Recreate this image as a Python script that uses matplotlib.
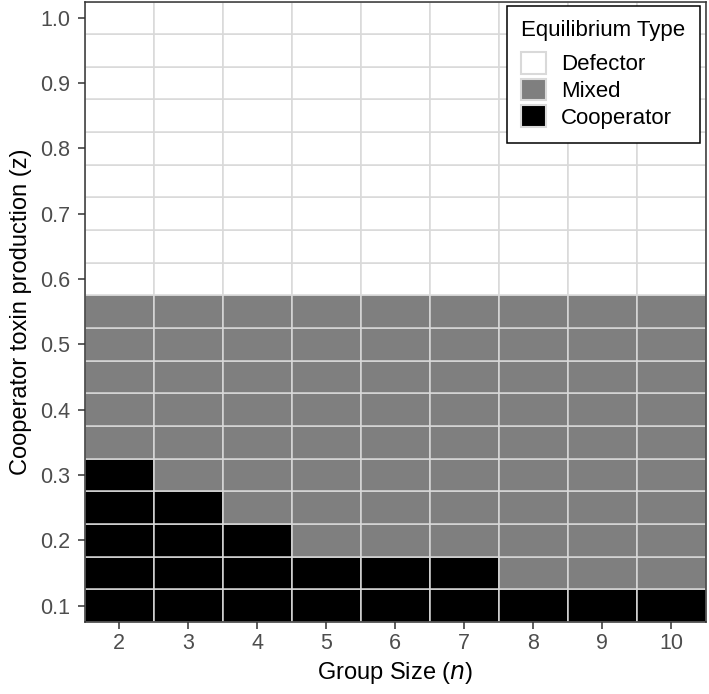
import numpy as np, matplotlib
matplotlib.use("Agg"); import matplotlib.pyplot as plt
from matplotlib.patches import Patch

# data
group_sizes = [2, 3, 4, 5, 6, 7, 8, 9, 10]
z_values = [round(0.10 + 0.05*k, 2) for k in range(19)]   # 0.10 .. 1.00 grid
coop_max_z = [0.30, 0.25, 0.20, 0.15, 0.15, 0.15, 0.10, 0.10, 0.10]
mixed_max_z = [0.55, 0.55, 0.55, 0.55, 0.55, 0.55, 0.55, 0.55, 0.55]
categories = ["Defector", "Mixed", "Cooperator"]
cat_colors = {"Defector": "#ffffff", "Mixed": "#7f7f7f", "Cooperator": "#000000"}

EDGE = "#d9d9d9"; INK = "#333333"; TICK = "#4d4d4d"
plt.rcParams.update({"font.family": ["Liberation Sans", "DejaVu Sans"]})

fig = plt.figure(figsize=(7.09, 6.94), dpi=100)
ax = fig.add_axes([84.5/709, 1-622/694, 621.5/709, 620.5/694])

for n, cz, mz in zip(group_sizes, coop_max_z, mixed_max_z):
    for z in z_values:
        if z <= cz + 1e-9: c = "Cooperator"
        elif z <= mz + 1e-9: c = "Mixed"
        else: c = "Defector"
        ax.bar(n, 0.05, width=1.0, bottom=z-0.025, color=cat_colors[c],
               edgecolor=EDGE, linewidth=1.1, zorder=2)

ax.set_xlim(1.5, 10.5); ax.set_ylim(0.075, 1.025)
ax.set_xticks(group_sizes)
ax.set_yticks(np.round(np.arange(0.1, 1.01, 0.1), 1))
ax.set_yticklabels([f"{v:.1f}" for v in np.arange(0.1, 1.01, 0.1)])
ax.tick_params(colors=INK, labelcolor=TICK, labelsize=15.5, length=5, width=1.1)
ax.tick_params(axis="y", pad=5)
ax.tick_params(axis="x", pad=3)
for s in ax.spines.values():
    s.set_color(INK); s.set_linewidth(1.1); s.set_zorder(5)

ax.set_xlabel("Group Size ($\\it{n}$)", fontsize=17, labelpad=4)
ax.set_ylabel("Cooperator toxin production (z)", fontsize=17, labelpad=6)

handles = [Patch(facecolor=cat_colors[c], edgecolor=EDGE, linewidth=1.5, label=c) for c in categories]
leg = ax.legend(handles=handles, title="Equilibrium Type", loc="upper right",
                bbox_to_anchor=(0.990, 0.993), borderaxespad=0, fontsize=16,
                title_fontsize=16, alignment="left", fancybox=False, framealpha=1,
                handlelength=1.1, handleheight=1.1, labelspacing=0.15, handletextpad=0.68,
                borderpad=0.64)
leg._legend_box.sep = 8  # extra room under the legend title
leg.get_frame().set_edgecolor("#000000"); leg.get_frame().set_linewidth(1.1)
leg.set_zorder(6)

plt.savefig("out.png", dpi=100)
